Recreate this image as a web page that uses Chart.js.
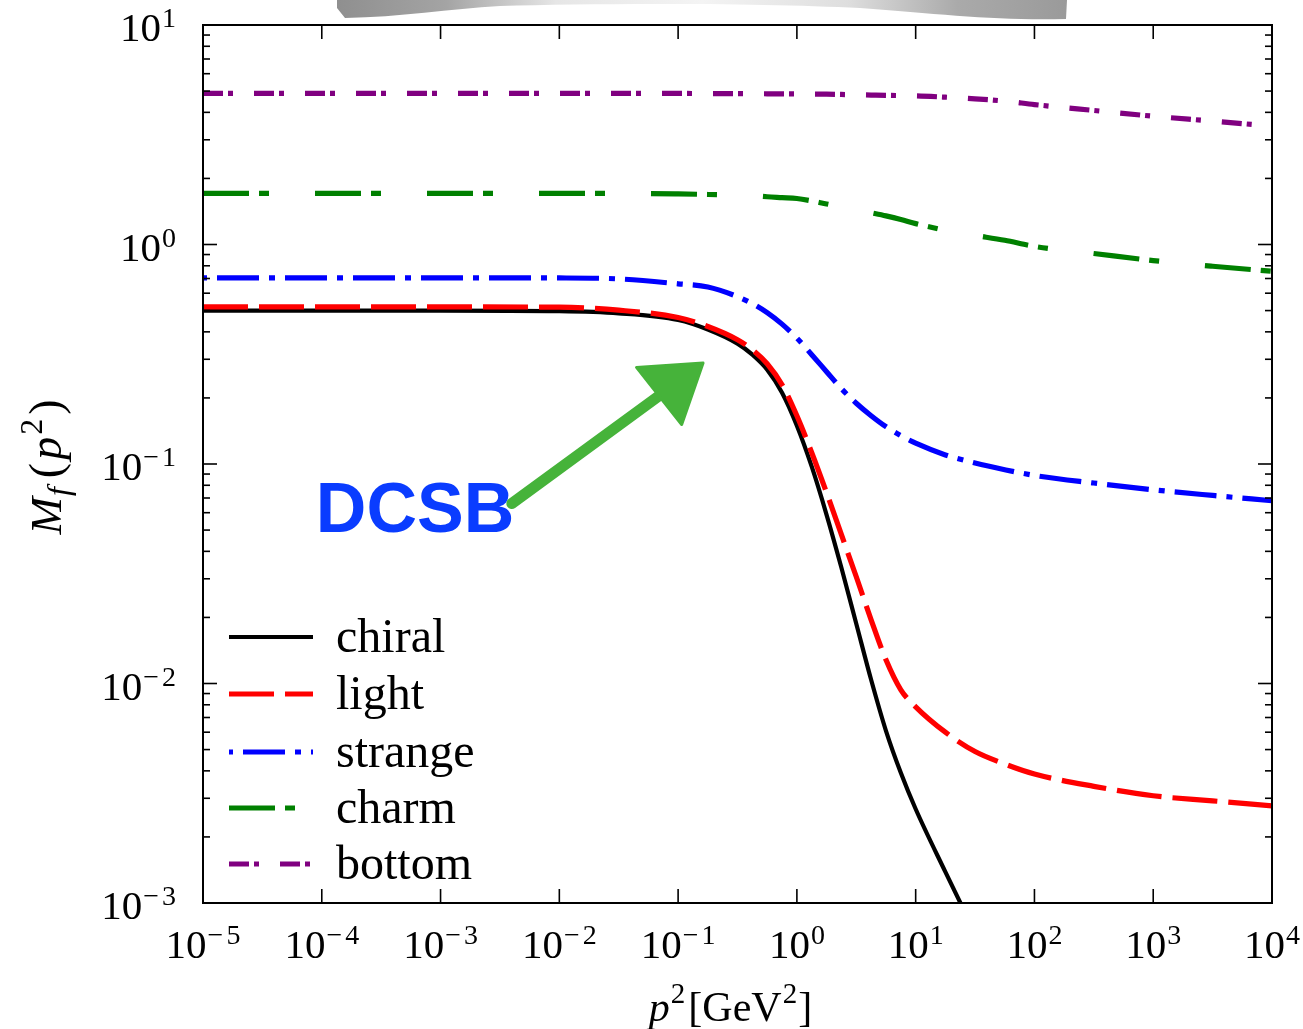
<!DOCTYPE html>
<html lang="en">
<head>
  <meta charset="UTF-8">
  <title>Quark mass function M_f(p^2)</title>
  <style>
    html, body { margin: 0; padding: 0; background: #fff; overflow: hidden; }
    #wrap { width: 1303px; height: 1029px; }
  </style>
</head>
<body>
  <div id="wrap"><canvas id="massChart" width="1303" height="1029"></canvas></div>

  <script src="https://cdn.jsdelivr.net/npm/chart.js@4"></script>
  <script>
    // p^2 [GeV^2] sample points (log spaced, denser where the curves bend)
    const p2 = [1e-5, 1e-4, 1e-3, 1e-2, 0.0316, 0.1, 0.178,
                0.316, 0.422, 0.562, 0.750, 1, 1.334, 1.778, 2.371, 3.162, 4.217, 5.623, 7.499, 10,
                17.78, 31.62, 56.23, 100, 316.2, 1000, 3162, 10000];

    // M_f(p^2)
    const chiral  = [0.50, 0.50, 0.50, 0.497, 0.486, 0.453, 0.410,
                     0.3535, 0.3148, 0.2691, 0.2113, 0.1495, 0.0972, 0.0587, 0.03368, 0.01871, 0.01040, 0.00609, 0.00392, 0.00268,
                     0.001386, 0.00073, null, null, null, null, null, null];
    const light   = [0.52, 0.52, 0.52, 0.518, 0.502, 0.465, 0.423,
                     0.3682, 0.3315, 0.2862, 0.2296, 0.1658, 0.1126, 0.0740, 0.04762, 0.03064, 0.01951, 0.01282, 0.00936, 0.00783,
                     0.0060, 0.0049, 0.0043, 0.00387, 0.0034, 0.00308, 0.00292, 0.00277];
    const strange = [0.705, 0.705, 0.705, 0.704, 0.697, 0.662, 0.640,
                     0.5787, 0.5378, 0.4893, 0.4337, 0.3745, 0.3148, 0.2634, 0.2204, 0.1892, 0.1660, 0.1479, 0.1346, 0.1244,
                     0.110, 0.101, 0.0942, 0.0887, 0.0819, 0.0763, 0.0719, 0.068];
    const charm   = [1.71, 1.71, 1.71, 1.71, 1.71, 1.70, 1.69,
                     1.68, 1.67, 1.65, 1.635, 1.62, 1.58, 1.53, 1.485, 1.44, 1.395, 1.35, 1.30, 1.245,
                     1.16, 1.10, 1.045, 0.98, 0.91, 0.845, 0.796, 0.755];
    const bottom  = [4.88, 4.88, 4.88, 4.88, 4.88, 4.88, 4.87,
                     4.87, 4.865, 4.86, 4.855, 4.85, 4.845, 4.84, 4.825, 4.81, 4.795, 4.78, 4.77, 4.76,
                     4.69, 4.61, 4.50, 4.34, 4.08, 3.84, 3.65, 3.46];

    // decade exponents used for the tick labels
    const xTickExp = [-5, -4, -3, -2, -1, 0, 1, 2, 3, 4];
    const yTickExp = [-3, -2, -1, 0, 1];

    // annotation anchors in data coordinates
    const dcsbLabel = [10 ** -4.05, 10 ** -1.31];
    const arrowTail = [10 ** -2.40, 10 ** -1.18];
    const arrowTip  = [10 ** -0.79, 10 ** -0.54];
    const arrowWing1 = [10 ** -1.35, 10 ** -0.56];
    const arrowWing2 = [10 ** -0.97, 10 ** -0.82];

    const series = [
      { label: 'chiral',  values: chiral,  color: '#000000', width: 4.2, dash: [],              offset: 0 },
      { label: 'light',   values: light,   color: '#ff0000', width: 5.2, dash: [45, 11],        offset: 0 },
      { label: 'strange', values: strange, color: '#0000ff', width: 5.2, dash: [42, 10, 6, 10], offset: 54 },
      { label: 'charm',   values: charm,   color: '#008000', width: 5.2, dash: [46, 10, 10, 46], offset: 0 },
      { label: 'bottom',  values: bottom,  color: '#800080', width: 5.2, dash: [20, 5, 5, 21],  offset: 0 }
    ];

    const SERIF = '"Liberation Serif", "DejaVu Serif", serif';

    function line(ctx, x1, y1, x2, y2) {
      ctx.beginPath(); ctx.moveTo(x1, y1); ctx.lineTo(x2, y2); ctx.stroke();
    }

    // "10" with a raised exponent
    function powerLabel(ctx, exp, x, y, align) {
      const base = '41px ' + SERIF, sup = '28px ' + SERIF;
      ctx.font = base;
      const wb = ctx.measureText('10').width;
      ctx.font = sup;
      const digits = String(Math.abs(exp));
      const wm = exp < 0 ? ctx.measureText('\u2212').width + 3 : 0;
      const wd = ctx.measureText(digits).width;
      const total = wb + 1 + wm + wd;
      const x0 = align === 'center' ? x - total / 2 : x - total;
      ctx.textAlign = 'left';
      ctx.font = base;
      ctx.fillText('10', x0, y);
      ctx.font = sup;
      if (exp < 0) ctx.fillText('\u2212', x0 + wb + 1, y - 14);
      ctx.fillText(digits, x0 + wb + 1 + wm, y - 14);
    }

    // run of text pieces with different fonts / baseline shifts
    function drawPieces(ctx, pieces, x, y) {
      let w = 0;
      pieces.forEach(p => { ctx.font = p.font; w += ctx.measureText(p.t).width + (p.gap || 0); });
      let cx = x - w / 2;
      ctx.textAlign = 'left';
      pieces.forEach(p => {
        ctx.font = p.font;
        ctx.fillText(p.t, cx, y + (p.dy || 0));
        cx += ctx.measureText(p.t).width + (p.gap || 0);
      });
    }

    const decor = {
      id: 'decor',
      beforeDraw(chart) {
        const ctx = chart.ctx;
        ctx.save();
        ctx.fillStyle = '#fff';
        ctx.fillRect(0, 0, chart.width, chart.height);
        // grey smear at the top edge of the scanned figure
        const g = ctx.createLinearGradient(337, 0, 1067, 0);
        g.addColorStop(0, '#8f8f8f');
        g.addColorStop(0.15, '#a4a4a4');
        g.addColorStop(0.3, '#e6e6e6');
        g.addColorStop(0.5, '#f4f4f4');
        g.addColorStop(0.7, '#dedede');
        g.addColorStop(0.85, '#aaaaaa');
        g.addColorStop(1, '#9a9a9a');
        ctx.fillStyle = g;
        ctx.beginPath();
        ctx.moveTo(337, 0);
        ctx.lineTo(1067, 0);
        ctx.lineTo(1066, 19);
        ctx.bezierCurveTo(1000, 21, 940, 14, 860, 8);
        ctx.bezierCurveTo(760, 3, 600, 3, 500, 6);
        ctx.bezierCurveTo(450, 9, 400, 17, 345, 18);
        ctx.lineTo(337, 8);
        ctx.closePath();
        ctx.fill();
        ctx.restore();
      },
      afterDatasetsDraw(chart) {
        const { ctx, chartArea: a, scales: { x, y } } = chart;
        ctx.save();
        ctx.strokeStyle = '#000';
        ctx.fillStyle = '#000';

        // frame
        ctx.lineWidth = 2;
        ctx.strokeRect(a.left, a.top, a.right - a.left, a.bottom - a.top);

        // inward ticks
        ctx.lineWidth = 1.6;
        xTickExp.forEach(e => {
          const px = x.getPixelForValue(10 ** e);
          line(ctx, px, a.bottom, px, a.bottom - 14);
          line(ctx, px, a.top, px, a.top + 14);
        });
        yTickExp.forEach(e => {
          const py = y.getPixelForValue(10 ** e);
          line(ctx, a.left, py, a.left + 14, py);
          line(ctx, a.right, py, a.right - 14, py);
        });
        for (let i = 0; i < yTickExp.length - 1; i++) {
          for (let m = 2; m <= 9; m++) {
            const py = y.getPixelForValue(m * 10 ** yTickExp[i]);
            line(ctx, a.left, py, a.left + 7, py);
            line(ctx, a.right, py, a.right - 7, py);
          }
        }

        // tick labels
        ctx.textBaseline = 'alphabetic';
        xTickExp.forEach(e => powerLabel(ctx, e, x.getPixelForValue(10 ** e), a.bottom + 55, 'center'));
        yTickExp.forEach(e => powerLabel(ctx, e, a.left - 27, y.getPixelForValue(10 ** e) + 16, 'right'));

        // axis titles
        drawPieces(ctx, [
          { t: 'p', font: 'italic 42px ' + SERIF, gap: 1 },
          { t: '2', font: '29px ' + SERIF, dy: -18, gap: 3 },
          { t: '[GeV', font: '42px ' + SERIF, gap: 1 },
          { t: '2', font: '29px ' + SERIF, dy: -18, gap: 1 },
          { t: ']', font: '42px ' + SERIF }
        ], (a.left + a.right) / 2 - 7, 1021);

        ctx.save();
        ctx.translate(61, 467);
        ctx.rotate(-Math.PI / 2);
        drawPieces(ctx, [
          { t: 'M', font: 'italic 45px ' + SERIF, gap: 1 },
          { t: 'f', font: 'italic 32px ' + SERIF, dy: 8, gap: 9 },
          { t: '(', font: '46px ' + SERIF, gap: 3 },
          { t: 'p', font: 'italic 46px ' + SERIF, gap: 2 },
          { t: '2', font: '32px ' + SERIF, dy: -19, gap: 4 },
          { t: ')', font: '46px ' + SERIF }
        ], 0, 0);
        ctx.restore();

        // legend
        const rows = [637, 694, 752, 808, 864];
        series.forEach((s, i) => {
          ctx.save();
          ctx.strokeStyle = s.color;
          ctx.lineWidth = s.width;
          ctx.setLineDash(s.dash);
          ctx.lineDashOffset = s.offset;
          line(ctx, a.left + 26, rows[i], a.left + 110, rows[i]);
          ctx.restore();
          ctx.font = '48px ' + SERIF;
          ctx.textAlign = 'left';
          ctx.fillText(s.label, a.left + 133, rows[i] + 15);
        });

        // DCSB annotation
        ctx.font = 'bold 70px "Liberation Sans", Arial, sans-serif';
        ctx.fillStyle = '#0a3cff';
        ctx.fillText('DCSB', x.getPixelForValue(dcsbLabel[0]), y.getPixelForValue(dcsbLabel[1]));

        const P = pt => [x.getPixelForValue(pt[0]), y.getPixelForValue(pt[1])];
        const t0 = P(arrowTail), t1 = P(arrowTip), w1 = P(arrowWing1), w2 = P(arrowWing2);
        const baseMid = [(w1[0] + w2[0]) / 2, (w1[1] + w2[1]) / 2];
        ctx.strokeStyle = '#46b33a';
        ctx.fillStyle = '#46b33a';
        ctx.lineWidth = 11;
        ctx.lineCap = 'round';
        line(ctx, t0[0], t0[1], baseMid[0] + (t1[0] - baseMid[0]) * 0.3, baseMid[1] + (t1[1] - baseMid[1]) * 0.3);
        ctx.beginPath();
        ctx.moveTo(w1[0], w1[1]);
        ctx.lineTo(t1[0], t1[1]);
        ctx.lineTo(w2[0], w2[1]);
        ctx.closePath();
        ctx.lineWidth = 3;
        ctx.lineJoin = 'round';
        ctx.fill();
        ctx.stroke();

        ctx.restore();
      }
    };

    const datasets = series.map((s, i) => ({
      label: s.label,
      data: p2.map((v, k) => ({ x: v, y: s.values[k] })),
      borderColor: s.color,
      borderWidth: s.width,
      borderDash: s.dash,
      borderDashOffset: s.offset,
      borderJoinStyle: 'round',
      pointRadius: 0,
      cubicInterpolationMode: 'monotone',
      fill: false,
      spanGaps: false,
      order: series.length - i
    }));

    window.addEventListener('load', () => {
      new Chart(document.getElementById('massChart'), {
        type: 'line',
        data: { datasets },
        options: {
          responsive: false,
          animation: false,
          devicePixelRatio: 1,
          events: [],
          layout: { padding: { left: 203, right: 31, top: 25, bottom: 126 } },
          scales: {
            x: { type: 'logarithmic', min: 1e-5, max: 1e4, display: false },
            y: { type: 'logarithmic', min: 1e-3, max: 10, display: false }
          },
          plugins: {
            legend: { display: false },
            tooltip: { enabled: false }
          }
        },
        plugins: [decor]
      });
    });
  </script>
</body>
</html>
